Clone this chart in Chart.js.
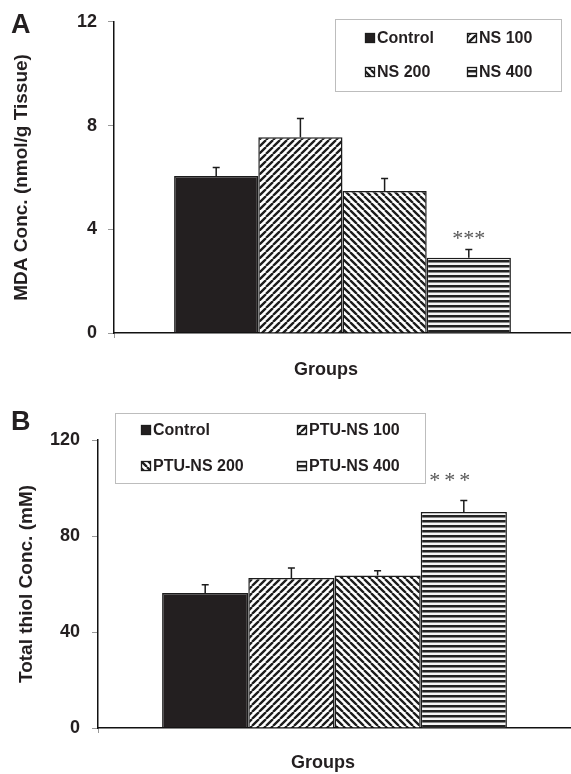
<!DOCTYPE html>
<html><head><meta charset="utf-8">
<script src="https://cdn.jsdelivr.net/npm/chart.js@4.4.1/dist/chart.umd.min.js"></script>
<style>
html,body{margin:0;padding:0;background:#fff;width:571px;height:774px;overflow:hidden}
canvas{position:absolute;left:0}
#cA{top:0}
#cB{top:390px}
</style></head><body>
<canvas id="cA" width="571" height="390"></canvas>
<canvas id="cB" width="571" height="384"></canvas>
<script>
// ---- data ----
const mdaGroups = ['Control', 'NS 100', 'NS 200', 'NS 400'];
const mdaMeans = [6.05, 7.55, 5.48, 2.90];
const mdaErrors = [0.33, 0.72, 0.48, 0.32];
const mdaSignif = ['', '', '', '***'];
const mdaTicks = [0, 4, 8, 12];

const thiolGroups = ['Control', 'PTU-NS 100', 'PTU-NS 200', 'PTU-NS 400'];
const thiolMeans = [56.2, 62.5, 63.5, 90.0];
const thiolErrors = [3.5, 4.2, 2.0, 4.8];
const thiolSignif = ['', '', '', '***'];
const thiolTicks = [0, 40, 80, 120];

// ---- fills ----
function makePattern(kind) {
  const c = document.createElement('canvas');
  const g = c.getContext('2d');
  if (kind === 'h') {
    c.width = 4; c.height = 5;
    g.fillStyle = '#f6f6f6'; g.fillRect(0, 0, 4, 5);
    g.fillStyle = '#222'; g.fillRect(0, 0, 4, 2);
    g.fillStyle = '#888'; g.fillRect(0, 2, 4, 1);
    return g.createPattern(c, 'repeat');
  }
  const s = 7;
  c.width = s; c.height = s;
  g.fillStyle = '#fff'; g.fillRect(0, 0, s, s);
  g.strokeStyle = '#1c1c1c'; g.lineWidth = 2.3;
  g.beginPath();
  for (const k of [-s, 0, s]) {
    if (kind === 'f') { g.moveTo(k, s); g.lineTo(k + s, 0); }
    else { g.moveTo(k, 0); g.lineTo(k + s, s); }
  }
  g.stroke();
  return g.createPattern(c, 'repeat');
}
const fills = ['#231f20', makePattern('f'), makePattern('b'), makePattern('h')];
const FONT = 'Liberation Sans, Arial, sans-serif';

function build(id, o) {
  const overlay = {
    id: 'overlay_' + id,
    afterDatasetsDraw(chart) {
      const ctx = chart.ctx, ys = chart.scales.y;
      chart.data.datasets.forEach((ds, i) => {
        const bar = chart.getDatasetMeta(i).data[0];
        const top = ys.getPixelForValue(o.means[i] + o.errs[i]);
        ctx.save();
        ctx.strokeStyle = '#1c1c1c'; ctx.lineWidth = 1.5;
        ctx.beginPath();
        ctx.moveTo(bar.x, bar.y); ctx.lineTo(bar.x, top);
        ctx.moveTo(bar.x - 3.5, top); ctx.lineTo(bar.x + 3.5, top);
        ctx.stroke();
        if (o.sig[i]) {
          ctx.fillStyle = '#555';
          ctx.font = o.starFont;
          if ('letterSpacing' in ctx) ctx.letterSpacing = o.starSpacing;
          ctx.textAlign = 'center'; ctx.textBaseline = 'alphabetic';
          ctx.fillText(o.sig[i], bar.x + o.starDx, top - o.starDy);
        }
        ctx.restore();
      });
    },
    afterDraw(chart) {
      const ctx = chart.ctx;
      ctx.save();
      // legend box
      const [bx, by, bw, bh] = o.legendBox;
      ctx.strokeStyle = '#bdbdbd'; ctx.lineWidth = 1;
      ctx.strokeRect(bx + 0.5, by + 0.5, bw, bh);
      ctx.font = 'bold 16px ' + FONT;
      ctx.textBaseline = 'middle'; ctx.textAlign = 'left';
      chart.data.datasets.forEach((ds, i) => {
        const x = o.legendCols[i % 2], y = o.legendRows[Math.floor(i / 2)];
        ctx.fillStyle = ds.backgroundColor;
        ctx.fillRect(x, y - 5, 10, 10);
        ctx.strokeStyle = '#1c1c1c'; ctx.lineWidth = 1.3;
        ctx.strokeRect(x + 0.5, y - 4.5, 9, 9);
        ctx.fillStyle = '#231f20';
        ctx.fillText(ds.label, x + 12, y + 1);
      });
      // panel letter
      ctx.font = 'bold 27px ' + FONT;
      ctx.textBaseline = 'alphabetic';
      ctx.fillStyle = '#231f20';
      ctx.fillText(o.letter, 11, o.letterY);
      // x title
      ctx.font = 'bold 18px ' + FONT;
      ctx.textAlign = 'center'; ctx.textBaseline = 'middle';
      ctx.fillText('Groups', o.groupsX, o.groupsY);
      ctx.restore();
    }
  };

  return new Chart(document.getElementById(id), {
    type: 'bar',
    data: {
      labels: [''],
      datasets: o.labels.map((lab, i) => ({
        label: lab,
        data: [o.means[i]],
        backgroundColor: fills[i],
        borderColor: '#1c1c1c',
        borderWidth: 1.5
      }))
    },
    options: {
      responsive: false, animation: false, devicePixelRatio: 1,
      layout: { padding: { top: o.padTop, left: 0, right: 0, bottom: 0 } },
      plugins: { legend: { display: false }, tooltip: { enabled: false } },
      datasets: { bar: { barPercentage: 1, categoryPercentage: o.catPct } },
      scales: {
        x: {
          grid: { display: true, drawOnChartArea: false, drawTicks: true, tickLength: 5, color: '#999', offset: true },
          border: { display: true, color: '#111', width: 1.5 },
          ticks: { display: false },
          afterFit(s) { s.height = o.xH; }
        },
        y: {
          min: o.ticks[0], max: o.ticks[o.ticks.length - 1],
          afterBuildTicks(s) { s.ticks = o.ticks.map(v => ({ value: v })); },
          ticks: { font: { family: FONT, size: 18, weight: 'bold' }, color: '#231f20', padding: o.tickPad },
          grid: { drawOnChartArea: false, drawTicks: true, tickLength: 6, color: '#999' },
          border: { display: true, color: '#111', width: 1.5 },
          title: { display: true, text: o.yTitle, color: '#231f20',
                   font: { family: FONT, size: 19, weight: 'bold' }, padding: { top: o.titlePad, bottom: 0 } },
          afterFit(s) { s.width = o.yW; }
        }
      }
    },
    plugins: [overlay]
  });
}

build('cA', {
  labels: mdaGroups, means: mdaMeans, errs: mdaErrors, sig: mdaSignif, ticks: mdaTicks,
  yTitle: 'MDA Conc. (nmol/g Tissue)',
  padTop: 20, xH: 57, yW: 114, tickPad: 11, titlePad: 10, catPct: 0.737,
  starFont: '22px Liberation Serif, serif', starSpacing: '0px', starDx: 0, starDy: 4,
  legendBox: [335, 19, 226, 72], legendCols: [365, 467], legendRows: [38, 72],
  letter: 'A', letterY: 33, groupsX: 326, groupsY: 370
});

build('cB', {
  labels: thiolGroups, means: thiolMeans, errs: thiolErrors, sig: thiolSignif, ticks: thiolTicks,
  yTitle: 'Total thiol Conc. (mM)',
  padTop: 50, xH: 46, yW: 98, tickPad: 12, titlePad: 15, catPct: 0.729,
  starFont: '22px Liberation Serif, serif', starSpacing: '4px', starDx: -12, starDy: 13,
  legendBox: [115, 23, 310, 70], legendCols: [141, 297], legendRows: [40, 76],
  letter: 'B', letterY: 40, groupsX: 323, groupsY: 373
});
</script>
</body></html>
